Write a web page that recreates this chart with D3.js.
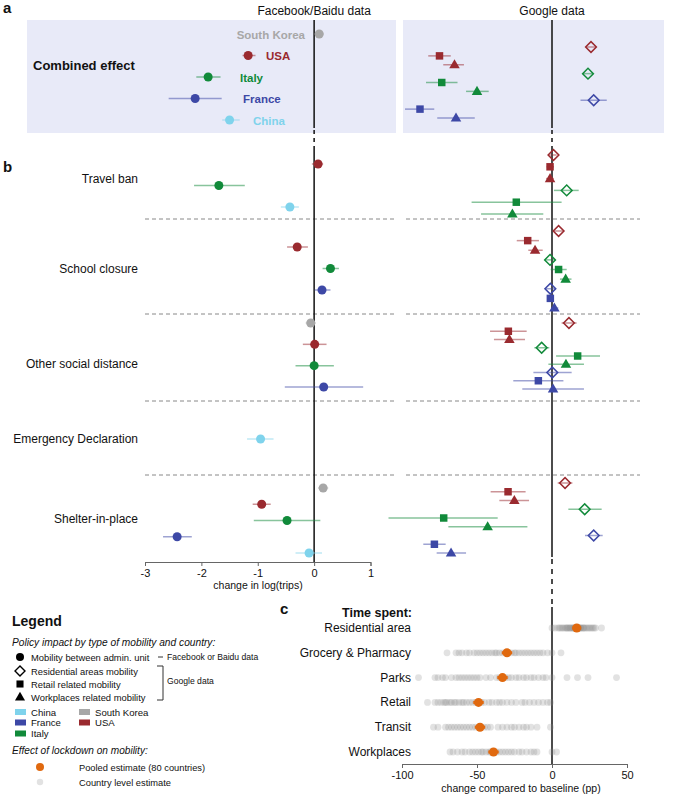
<!DOCTYPE html>
<html><head><meta charset="utf-8">
<script src="https://cdn.jsdelivr.net/npm/d3@7"></script>
<style>body{margin:0;background:#fff} svg{display:block} text{font-family:"Liberation Sans",Arial,Helvetica,sans-serif}</style>
</head><body><svg id="c" width="685" height="799"></svg>
<script>
// ---------------- DATA ----------------
const countries = ["South Korea","USA","Italy","France","China"];
const mobilityTypes = ["Residential","Retail","Workplaces"];
const fbTicks = [-3,-2,-1,0,1];
const gTicks = [-100,-50,0,50];

// Facebook/Baidu: change in log(trips) [country, estimate, lower, upper]
const fbCombined = [
 ["South Korea",0.09,0.01,0.17],
 ["USA",-1.17,-1.27,-1.04],
 ["Italy",-1.88,-2.09,-1.66],
 ["France",-2.11,-2.58,-1.64],
 ["China",-1.50,-1.63,-1.32]];
const fbTravelBan = [["USA",0.07,-0.04,0.16],["Italy",-1.69,-2.13,-1.23],["China",-0.43,-0.59,-0.27]];
const fbSchoolClosure = [["USA",-0.30,-0.48,-0.11],["Italy",0.29,0.15,0.44],["France",0.14,0.01,0.29]];
const fbOtherSocial = [["South Korea",-0.06,-0.15,0.03],["USA",0.01,-0.20,0.22],["Italy",0.0,-0.33,0.35],["France",0.17,-0.52,0.87]];
const fbEmergency = [["China",-0.95,-1.19,-0.72]];
const fbShelter = [["South Korea",0.16,0.07,0.25],["USA",-0.93,-1.09,-0.77],["Italy",-0.48,-1.07,0.11],["France",-2.43,-2.68,-2.17],["China",-0.09,-0.33,0.14]];

// Google: [country, mobility type, estimate, lower, upper]
const gCombined = [
 ["USA","Residential",26,22.7,29.3],["USA","Retail",-75,-82.5,-67.5],["USA","Workplaces",-65,-72.5,-58.7],
 ["Italy","Residential",24,20.9,27.1],["Italy","Retail",-73.5,-84,-63],["Italy","Workplaces",-50,-57.3,-42.2],
 ["France","Residential",27.8,19,36.5],["France","Retail",-88,-98,-78.5],["France","Workplaces",-64,-76.5,-51.5]];
const gTravelBan = [
 ["USA","Residential",1.0,-1.8,3.1],["USA","Retail",-1.3,-3.6,1.3],["USA","Workplaces",-1.3,-4,1.3],
 ["Italy","Residential",9.8,1.3,17.8],["Italy","Retail",-23.8,-53.6,6.4],["Italy","Workplaces",-26.4,-47.3,-5.8]];
const gSchoolClosure = [
 ["USA","Residential",4.4,0.9,7.6],["USA","Retail",-16.2,-23.5,-8.7],["USA","Workplaces",-11.3,-15.8,-6.2],
 ["Italy","Residential",-1.3,-4.7,2],["Italy","Retail",4.4,-0.9,9.8],["Italy","Workplaces",9.1,5.3,13],
 ["France","Residential",-1.1,-4.7,2.4],["France","Retail",-1.1,-2.6,0.4],["France","Workplaces",1.6,-0.7,4.2]];
const gOtherSocial = [
 ["USA","Residential",11.3,6.4,16.4],["USA","Retail",-29.1,-41.3,-16.9],["USA","Workplaces",-28.4,-38.7,-18],
 ["Italy","Residential",-6.9,-11.8,-1.8],["Italy","Retail",17.1,2.7,32],["Italy","Workplaces",9.3,-2.4,21.3],
 ["France","Residential",0.2,-12.4,13.1],["France","Retail",-9.1,-25.8,7.6],["France","Workplaces",0.7,-19.8,21.3]];
const gShelter = [
 ["USA","Residential",8.7,3.8,13.6],["USA","Retail",-29.3,-40.9,-17.6],["USA","Workplaces",-25.1,-35.1,-15.3],
 ["Italy","Residential",21.8,10.9,33.1],["Italy","Retail",-72.2,-109,-36.2],["Italy","Workplaces",-42.9,-69.1,-16.4],
 ["France","Residential",27.8,22,33.8],["France","Retail",-78.4,-85.8,-70.9],["France","Workplaces",-67.3,-76.9,-57.3]];

// Panel c: time spent, change compared to baseline (pp)
const timeCategories = ["Residential area","Grocery & Pharmacy","Parks","Retail","Transit","Workplaces"];
const pooledEstimate = [16.5,-30,-33,-49,-48,-39];
const pooledLower = [13.5,-33.5,-36.5,-52.5,-51.5,-42.5];
const pooledUpper = [19.5,-26.5,-29.5,-45.5,-44.5,-35.5];
const countryResidential = [0,2,4,5,6,7,8,9,10,10,11,12,12,13,14,14,15,15,16,16,17,17,18,18,19,19,20,21,21,22,23,24,25,26,27,28,29,33];
const countryGrocery = [-70,-64,-62,-60,-57,-55,-52,-50,-48,-46,-44,-42,-40,-38,-37,-35,-33,-31,-29,-27,-25,-24,-22,-20,-18,-16,-14,-12,-10,-8,-6,-3,0,6];
const countryParks = [-89,-78,-76,-73,-71,-67,-64,-62,-60,-58,-56,-54,-52,-50,-48,-44,-41,-37,-35,-31,-29,-27,-24,-22,-19,-17,-14,-12,-9,-6,-4,0,10,17,24,43];
const countryRetail = [-83,-78,-76,-74,-72,-71,-70,-68,-67,-65,-64,-62,-60,-59,-57,-55,-53,-51,-49,-47,-45,-42,-40,-37,-35,-33,-30,-27,-24,-20,-18,-15,-12,-9,-6,-3,-1];
const countryTransit = [-79,-76,-71,-69,-67,-65,-63,-61,-59,-57,-55,-53,-51,-49,-47,-45,-43,-41,-36,-33,-30,-27,-25,-22,-19,-17,-14,-10,-1];
const countryWorkplaces = [-68,-66,-63,-60,-58,-55,-53,-51,-49,-47,-46,-44,-42,-41,-39,-37,-35,-33,-31,-29,-27,-25,-22,-20,-17,-14,-12,-10,0,3];
const countryLevel = [countryResidential,countryGrocery,countryParks,countryRetail,countryTransit,countryWorkplaces];

// ---------------- STYLE / LAYOUT ----------------
const colors = {"China":"#7fd3ec","France":"#3d48a6","Italy":"#118a3a","South Korea":"#a7a7a7","USA":"#9a2a2f"};
const orange = "#e0690f";
const bg = "#e8eaf8";
const svg = d3.select("#c");
const FONT = '"Liberation Sans",Arial,Helvetica,sans-serif';

const xFB = d3.scaleLinear().domain([-3,1]).range([145,370.5]);
const xG = d3.scaleLinear().domain([-100,50]).range([402,627]);

const sections = [
 {fb:fbCombined, g:gCombined, label:"Combined effect", labelY:66, fbR:[34,120], gR:[47,118], bold:true},
 {fb:fbTravelBan, g:gTravelBan, label:"Travel ban", labelY:179, fbR:[164,207], gR:[155,214]},
 {fb:fbSchoolClosure, g:gSchoolClosure, label:"School closure", labelY:269, fbR:[247,290], gR:[231,308]},
 {fb:fbOtherSocial, g:gOtherSocial, label:"Other social distance", labelY:364, fbR:[323,387], gR:[323,389]},
 {fb:fbEmergency, g:[], label:"Emergency Declaration", labelY:439, fbR:[439,439], gR:[0,0]},
 {fb:fbShelter, g:gShelter, label:"Shelter-in-place", labelY:519, fbR:[488,553], gR:[483,553]}
];

// panel a backgrounds
svg.append("rect").attr("x",27).attr("y",20).attr("width",369).attr("height",113).attr("fill",bg);
svg.append("rect").attr("x",403).attr("y",20).attr("width",261).attr("height",113).attr("fill",bg);

// separators
[219,314,401,475].forEach(y=>{
  svg.append("line").attr("x1",145).attr("x2",396).attr("y1",y).attr("y2",y).attr("stroke","#888").attr("stroke-width",1).attr("stroke-dasharray","4,3");
  svg.append("line").attr("x1",406).attr("x2",640).attr("y1",y).attr("y2",y).attr("stroke","#888").attr("stroke-width",1).attr("stroke-dasharray","4,3");
});

// zero lines
function vseg(x,y1,y2,dash){
  const l=svg.append("line").attr("x1",x).attr("x2",x).attr("y1",y1).attr("y2",y2).attr("stroke","#111").attr("stroke-width",1.5);
  if(dash) l.attr("stroke-dasharray",dash);
}
const x0 = xFB(0), g0 = xG(0);
vseg(x0,20,128); vseg(x0,130,150,"4,4"); vseg(x0,150,562);
vseg(g0,20,128); vseg(g0,130,150,"4,4"); vseg(g0,150,557); vseg(g0,559,607,"5,5"); vseg(g0,607,764);

// titles
svg.append("text").attr("x",x0).attr("y",15).attr("text-anchor","middle").attr("font-size",12).attr("fill","#111").text("Facebook/Baidu data");
svg.append("text").attr("x",g0).attr("y",15).attr("text-anchor","middle").attr("font-size",12).attr("fill","#111").text("Google data");
// panel letters
[["a",3,13],["b",3,172],["c",280,614]].forEach(([t,x,y])=>svg.append("text").attr("x",x).attr("y",y).attr("font-size",15).attr("font-weight","bold").attr("fill","#111").text(t));

const sym = {
 "Residential": d3.symbol().type(d3.symbolSquare).size(58),
 "Retail": d3.symbol().type(d3.symbolSquare).size(56),
 "Workplaces": d3.symbol().type(d3.symbolTriangle).size(48)
};

sections.forEach(s=>{
  svg.append("text").attr("x", s.bold?33:138).attr("y", s.labelY+4)
    .attr("text-anchor", s.bold?"start":"end").attr("font-size", s.bold?13:12)
    .attr("font-weight", s.bold?"bold":"normal").attr("fill","#111").text(s.label);
  const yF = d3.scalePoint().domain(s.fb.map(d=>d[0])).range(s.fbR);
  const gf = svg.append("g");
  s.fb.forEach(d=>{
    const y=yF(d[0]), c=colors[d[0]];
    gf.append("line").attr("x1",xFB(d[2])).attr("x2",xFB(d[3])).attr("y1",y).attr("y2",y).attr("stroke",c).attr("stroke-width",1.5).attr("stroke-opacity",0.5);
    gf.append("circle").attr("cx",xFB(d[1])).attr("cy",y).attr("r",4.5).attr("fill",c);
  });
  const yG = d3.scalePoint().domain(s.g.map(d=>d[0]+"|"+d[1])).range(s.gR);
  s.g.forEach(d=>{
    const y=yG(d[0]+"|"+d[1]), c=colors[d[0]], x=xG(d[2]);
    gf.append("line").attr("x1",xG(d[3])).attr("x2",xG(d[4])).attr("y1",y).attr("y2",y).attr("stroke",c).attr("stroke-width",1.5).attr("stroke-opacity",0.5);
    if(d[1]==="Residential"){
      gf.append("path").attr("d",sym.Residential()).attr("transform",`translate(${x},${y}) rotate(45)`).attr("fill","none").attr("stroke",c).attr("stroke-width",1.5);
    } else {
      gf.append("path").attr("d",sym[d[1]]()).attr("transform",`translate(${x},${y+(d[1]==="Workplaces"?0.5:0)})`).attr("fill",c);
    }
  });
});

// panel a country labels
const yA = d3.scalePoint().domain(fbCombined.map(d=>d[0])).range(sections[0].fbR);
[["South Korea",305,"end"],["USA",266,"start"],["Italy",240,"start"],["France",243,"start"],["China",253,"start"]].forEach(([c,x,a])=>{
  svg.append("text").attr("x",x).attr("y",yA(c)+4.5).attr("text-anchor",a).attr("font-size",11.5).attr("font-weight","bold")
    .attr("fill",colors[c]).text(c);
});

// FB axis
const axF = svg.append("g").attr("transform","translate(0,562)").call(d3.axisBottom(xFB).tickValues(fbTicks).tickSize(4).tickFormat(d3.format("d")));
axF.select(".domain").attr("stroke","#666");
axF.selectAll(".tick line").attr("stroke","#666");
axF.selectAll("text").attr("font-size",11).attr("font-family",FONT).attr("fill","#111").text(d=>String(d));
svg.append("text").attr("x",258).attr("y",589).attr("text-anchor","middle").attr("font-size",10.5).attr("fill","#111").text("change in log(trips)");

// Panel c
const yC = d3.scalePoint().domain(timeCategories).range([628,752]);
svg.append("text").attr("x",412).attr("y",617).attr("text-anchor","end").attr("font-size",12.5).attr("font-weight","bold").attr("fill","#111").text("Time spent:");
timeCategories.forEach((cat,i)=>{
  const y=yC(cat);
  svg.append("text").attr("x",411).attr("y",y+4).attr("text-anchor","end").attr("font-size",12).attr("fill","#111").text(cat);
  countryLevel[i].forEach(v=>{
    svg.append("circle").attr("cx",xG(v)).attr("cy",y).attr("r",3.4).attr("fill","#8a8a8a").attr("fill-opacity",0.25);
  });
  svg.append("line").attr("x1",xG(pooledLower[i])).attr("x2",xG(pooledUpper[i])).attr("y1",y).attr("y2",y).attr("stroke",orange).attr("stroke-width",3);
  svg.append("circle").attr("cx",xG(pooledEstimate[i])).attr("cy",y).attr("r",4.5).attr("fill",orange);
});
const axC = svg.append("g").attr("transform","translate(0,764)").call(d3.axisBottom(xG).tickValues(gTicks).tickSize(4).tickFormat(d3.format("d")));
axC.select(".domain").attr("stroke","#666");
axC.selectAll(".tick line").attr("stroke","#666");
axC.selectAll("text").attr("font-size",11).attr("font-family",FONT).attr("fill","#111").text(d=>String(d));
svg.append("text").attr("x",521).attr("y",792).attr("text-anchor","middle").attr("font-size",10.5).attr("fill","#111").text("change compared to baseline (pp)");

// Legend
const L = svg.append("g");
L.append("text").attr("x",12).attr("y",626).attr("font-size",14).attr("font-weight","bold").attr("fill","#111").text("Legend");
L.append("text").attr("x",12).attr("y",646).attr("font-size",10.2).attr("font-style","italic").attr("fill","#111").text("Policy impact by type of mobility and country:");
const legItems = [
 ["circle","Mobility between admin. unit",657],
 ["diamond","Residential areas mobility",671],
 ["square","Retail related mobility",684],
 ["triangle","Workplaces related mobility",697]];
legItems.forEach(([t,label,y])=>{
  if(t==="circle") L.append("circle").attr("cx",20).attr("cy",y).attr("r",4).attr("fill","#000");
  else if(t==="diamond") L.append("path").attr("d",d3.symbol().type(d3.symbolSquare).size(50)()).attr("transform",`translate(20,${y}) rotate(45)`).attr("fill","none").attr("stroke","#000").attr("stroke-width",1.4);
  else if(t==="square") L.append("path").attr("d",d3.symbol().type(d3.symbolSquare).size(50)()).attr("transform",`translate(20,${y})`).attr("fill","#000");
  else L.append("path").attr("d",d3.symbol().type(d3.symbolTriangle).size(44)()).attr("transform",`translate(20,${y+0.5})`).attr("fill","#000");
  L.append("text").attr("x",31).attr("y",y+3.5).attr("font-size",9.4).attr("fill","#111").text(label);
});
L.append("line").attr("x1",158).attr("x2",163).attr("y1",657).attr("y2",657).attr("stroke","#333");
L.append("text").attr("x",167).attr("y",660).attr("font-size",8.6).attr("fill","#111").text("Facebook or Baidu data");
L.append("path").attr("d","M157,666H163V700H157").attr("fill","none").attr("stroke","#333");
L.append("text").attr("x",167).attr("y",684).attr("font-size",8.6).attr("fill","#111").text("Google data");
[["China",15,712],["France",15,722.5],["Italy",15,733.5],["South Korea",79,712],["USA",79,722.5]].forEach(([c,x,y])=>{
  L.append("rect").attr("x",x).attr("y",y-3).attr("width",11).attr("height",6).attr("fill",colors[c]);
  L.append("text").attr("x",x+16).attr("y",y+3.5).attr("font-size",9.6).attr("fill","#111").text(c);
});
L.append("text").attr("x",12).attr("y",754).attr("font-size",10.1).attr("font-style","italic").attr("fill","#111").text("Effect of lockdown on mobility:");
L.append("circle").attr("cx",40).attr("cy",767).attr("r",4).attr("fill",orange);
L.append("text").attr("x",79).attr("y",770.5).attr("font-size",9.3).attr("fill","#111").text("Pooled estimate (80 countries)");
L.append("circle").attr("cx",40).attr("cy",782).attr("r",3.2).attr("fill","#8a8a8a").attr("fill-opacity",0.25);
L.append("text").attr("x",79).attr("y",785.5).attr("font-size",9.3).attr("fill","#111").text("Country level estimate");
</script></body></html>
